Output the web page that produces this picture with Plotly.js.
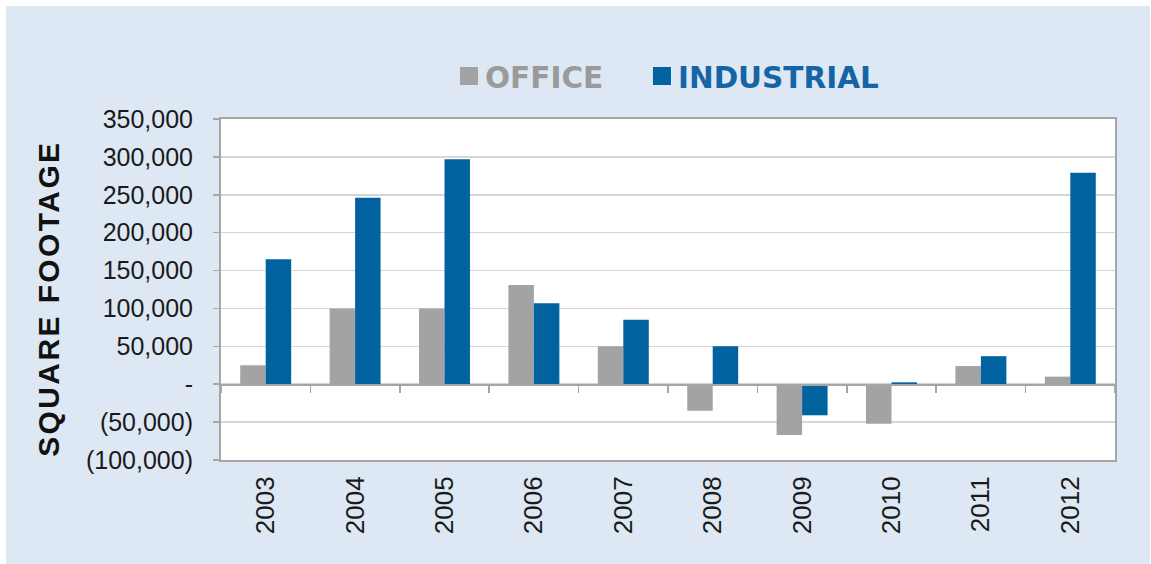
<!DOCTYPE html>
<html>
<head>
<meta charset="utf-8">
<script src="https://cdn.plot.ly/plotly-3.0.1.min.js"></script>
<style>
  html, body { margin: 0; padding: 0; background: #ffffff; }
  #chart { position: absolute; left: 6px; top: 6px; width: 1144px; height: 558px; }
  #chart .annotation-text { letter-spacing: 2.4px; }
</style>
</head>
<body>
<div id="chart"></div>
<script>
// ---- data ----
const years = ['2003', '2004', '2005', '2006', '2007', '2008', '2009', '2010', '2011', '2012'];
const office = [25000, 100000, 100000, 131000, 50000, -35000, -67000, -52000, 24000, 10000];
const industrial = [165000, 246000, 297000, 107000, 85000, 50000, -41000, 2500, 37000, 279000];
const seriesNames = ['OFFICE', 'INDUSTRIAL'];
const yTickVals = [350000, 300000, 250000, 200000, 150000, 100000, 50000, 0, -50000, -100000];
const yTickText = ['350,000', '300,000', '250,000', '200,000', '150,000', '100,000', '50,000', '-', '(50,000)', '(100,000)'];
const yTitle = 'SQUARE FOOTAGE';

const grayColor = '#a3a3a3';
const blueColor = '#0063a0';
const font = 'Liberation Sans, Arial, sans-serif';
const legendFont = 'DejaVu Sans, Verdana, sans-serif';

const traces = [
  { type: 'bar', x: years, y: office, name: seriesNames[0], legend: 'legend',
    marker: { color: grayColor }, xaxis: 'x', yaxis: 'y' },
  { type: 'bar', x: years, y: industrial, name: seriesNames[1], legend: 'legend2',
    marker: { color: blueColor }, xaxis: 'x', yaxis: 'y' },
  // invisible helper trace so that the zero-line category axis gets drawn
  { type: 'bar', x: years, y: years.map(() => 0), xaxis: 'x2', yaxis: 'y', showlegend: false,
    hoverinfo: 'skip', marker: { color: 'rgba(0,0,0,0)' } }
];

const legendCommon = {
  orientation: 'h', y: 1.125, yanchor: 'middle', xanchor: 'left',
  bgcolor: 'rgba(0,0,0,0)', borderwidth: 0
};

const layout = {
  width: 1144, height: 558,
  paper_bgcolor: '#dde8f4',
  plot_bgcolor: '#ffffff',
  margin: { l: 215, r: 35, t: 113, b: 104 },
  barmode: 'group',
  bargap: 0.43,
  bargroupgap: 0,
  showlegend: true,
  legend: Object.assign({}, legendCommon, {
    x: 0.2506, font: { family: legendFont, size: 29.5, weight: 'bold', color: '#9a9a9a' }
  }),
  legend2: Object.assign({}, legendCommon, {
    x: 0.4664, font: { family: legendFont, size: 29.5, weight: 'bold', color: '#1565a6' }
  }),
  xaxis: {
    type: 'category', categoryorder: 'array', categoryarray: years,
    range: [-0.5, 9.5],
    showline: true, mirror: true, linecolor: '#a6a6a6', linewidth: 2,
    ticks: '', tickangle: -90,
    tickfont: { family: font, size: 26, color: '#1a1a1a' },
    ticklabelstandoff: 4,
    showgrid: false, zeroline: false
  },
  xaxis2: {
    type: 'category', categoryorder: 'array', categoryarray: years,
    range: [-0.5, 9.5], overlaying: 'x', anchor: 'free', position: 100000 / 450000,
    showline: true, linecolor: '#a6a6a6', linewidth: 1.5,
    ticks: 'outside', tickson: 'boundaries', ticklen: 7, tickcolor: '#a6a6a6', tickwidth: 1.5,
    showticklabels: false, showgrid: false, zeroline: false
  },
  yaxis: {
    range: [-100000, 350000],
    tickvals: yTickVals, ticktext: yTickText,
    showline: true, mirror: true, linecolor: '#a6a6a6', linewidth: 2,
    ticks: 'outside', ticklen: 6, tickcolor: '#a6a6a6', tickwidth: 1.5,
    showgrid: true, gridcolor: '#d6d6d6', gridwidth: 1.5,
    zeroline: false,
    tickfont: { family: font, size: 25, color: '#1a1a1a' },
    ticklabelstandoff: 15
  },
  annotations: [{
    text: yTitle, textangle: -90, showarrow: false,
    xref: 'paper', yref: 'paper', x: -0.1935, y: 0.472, xanchor: 'center', yanchor: 'middle',
    font: { family: font, size: 30, weight: 'bold', color: '#111111' }
  }]
};

Plotly.newPlot('chart', traces, layout, { displayModeBar: false, staticPlot: true }).then(function () {
  // enlarge legend swatches to match the reference's bigger squares
  document.querySelectorAll('#chart .legendpoints path').forEach(function (p) {
    p.setAttribute('d', 'M13,9H-5V-9H13Z');
  });
});
</script>
</body>
</html>
